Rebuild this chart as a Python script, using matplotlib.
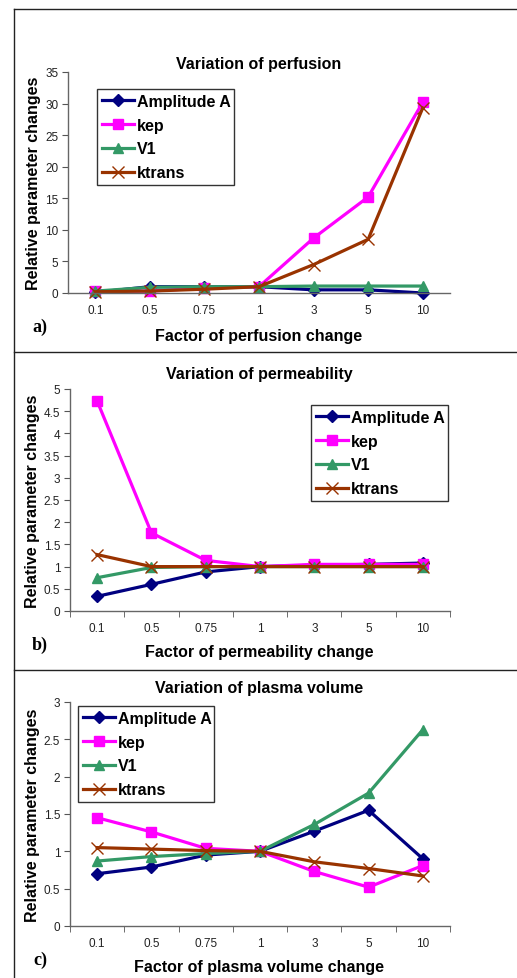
import matplotlib
matplotlib.use("Agg")
import matplotlib.pyplot as plt
from matplotlib.lines import Line2D
import numpy as np

categories = ["0.1", "0.5", "0.75", "1", "3", "5", "10"]
series_names = ["Amplitude A", "kep", "V1", "ktrans"]

# Panel a: variation of perfusion
a_amplitude = [0.1, 1.0, 1.0, 1.0, 0.5, 0.5, 0.0]
a_kep = [0.3, 0.3, 0.8, 1.0, 8.7, 15.2, 30.2]
a_v1 = [0.3, 0.9, 1.0, 1.0, 1.1, 1.1, 1.1]
a_ktrans = [0.2, 0.3, 0.6, 1.0, 4.5, 8.5, 29.3]

# Panel b: variation of permeability
b_amplitude = [0.33, 0.60, 0.88, 1.0, 1.03, 1.05, 1.08]
b_kep = [4.73, 1.76, 1.14, 1.0, 1.05, 1.05, 1.05]
b_v1 = [0.75, 0.98, 1.0, 1.0, 1.0, 1.0, 1.0]
b_ktrans = [1.27, 1.0, 1.0, 1.0, 1.0, 1.0, 1.0]

# Panel c: variation of plasma volume
c_amplitude = [0.70, 0.79, 0.95, 1.0, 1.27, 1.55, 0.90]
c_kep = [1.45, 1.26, 1.04, 1.0, 0.73, 0.52, 0.81]
c_v1 = [0.87, 0.93, 0.97, 1.0, 1.36, 1.78, 2.63]
c_ktrans = [1.05, 1.03, 1.01, 1.0, 0.86, 0.77, 0.67]

colors = ["#000080", "#FF00FF", "#339966", "#993300"]
markers = ["D", "s", "^", "x"]
msizes = [6, 7, 7, 9]

W, H = 517, 979
fig = plt.figure(figsize=(W / 100, H / 100), dpi=100)
fig.patch.set_facecolor("white")
plt.rcParams["font.family"] = ["Liberation Sans", "DejaVu Sans"]

def fbox(left, top, right, bottom):
    return [left / W, 1 - bottom / H, (right - left) / W, (bottom - top) / H]

panels = [
    dict(box=fbox(68, 73, 450, 294), data=[a_amplitude, a_kep, a_v1, a_ktrans],
         ylim=35, yticks=np.arange(0, 36, 5),
         title="Variation of perfusion", xlabel="Factor of perfusion change",
         letter="a)", letter_y=327, title_y=64, xlabel_y=337,
         leg=(97, 90, 234, 187), xticks_marks=False),
    dict(box=fbox(70, 390, 450, 612), data=[b_amplitude, b_kep, b_v1, b_ktrans],
         ylim=5, yticks=np.arange(0, 5.01, 0.5),
         title="Variation of permeability", xlabel="Factor of permeability change",
         letter="b)", letter_y=645, title_y=375, xlabel_y=653,
         leg=(311, 406, 448, 502), xticks_marks=True),
    dict(box=fbox(70, 703, 450, 927), data=[c_amplitude, c_kep, c_v1, c_ktrans],
         ylim=3, yticks=np.arange(0, 3.01, 0.5),
         title="Variation of plasma volume", xlabel="Factor of plasma volume change",
         letter="c)", letter_y=960, title_y=689, xlabel_y=968,
         leg=(78, 707, 214, 802), xticks_marks=True),
]

x = np.arange(len(categories))
for p in panels:
    ax = fig.add_axes(p["box"])
    handles = []
    for vals, name, col, mk, ms in zip(p["data"], series_names, colors, markers, msizes):
        if mk == "x":
            h, = ax.plot(x, vals, color=col, lw=2.3, marker=mk, ms=ms, mew=1.0,
                         label=name, clip_on=False)
        else:
            h, = ax.plot(x, vals, color=col, lw=2.3, marker=mk, ms=ms,
                         mec=col, mfc=col, label=name, clip_on=False)
        handles.append(h)
    ax.set_xlim(-0.5, 6.5)
    ax.set_ylim(0, p["ylim"])
    ax.set_yticks(p["yticks"])
    ax.set_yticklabels(["%g" % v for v in p["yticks"]], fontsize=8.5, color="#222222")
    ax.set_xticks(x)
    ax.set_xticklabels(categories, fontsize=8.5, color="#222222")
    ax.tick_params(axis="x", length=0, pad=8)
    if p["xticks_marks"]:
        ax.set_xticks(np.arange(-0.5, 7.0, 1.0), minor=True)
        ax.tick_params(axis="x", which="minor", length=4, color="#555555", direction="out")
    ax.tick_params(axis="y", length=4, color="#555555", pad=3)
    for s in ["top", "right"]:
        ax.spines[s].set_visible(False)
    for s in ["left", "bottom"]:
        ax.spines[s].set_color("#666666")
        ax.spines[s].set_linewidth(1.0)
    ax.set_ylabel("Relative parameter changes", fontsize=11.5, fontweight="bold", labelpad=3)
    fig.text(259 / W, 1 - p["title_y"] / H, p["title"], fontsize=11.5, fontweight="bold",
             ha="center", va="center")
    fig.text(259 / W, 1 - p["xlabel_y"] / H, p["xlabel"], fontsize=11.5, fontweight="bold",
             ha="center", va="center")
    fig.text(40 / W, 1 - p["letter_y"] / H, p["letter"], fontsize=13, fontweight="bold",
             ha="center", va="center", family=["Liberation Serif", "DejaVu Serif"])
    l, t, r, b = p["leg"]
    leg = ax.legend(handles=handles, loc="upper left",
                    bbox_to_anchor=(l / W, 1 - b / H, (r - l) / W, (b - t) / H),
                    bbox_transform=fig.transFigure, mode="expand",
                    prop=dict(size=11.5, weight="bold"), frameon=True, fancybox=False,
                    edgecolor="black", handlelength=2.0, handletextpad=0.2,
                    borderpad=0.3, labelspacing=0.55, borderaxespad=0)
    leg.get_frame().set_linewidth(1.0)

# outer frame lines
for (x0, y0, x1, y1) in [(14, 10, 14, 979), (14, 10, 517, 10), (14, 353, 517, 353), (14, 671, 517, 671)]:
    fig.add_artist(Line2D([x0 / W, x1 / W], [1 - y0 / H, 1 - y1 / H], color="#222222", lw=1.0))

fig.savefig("out.png", dpi=100)
